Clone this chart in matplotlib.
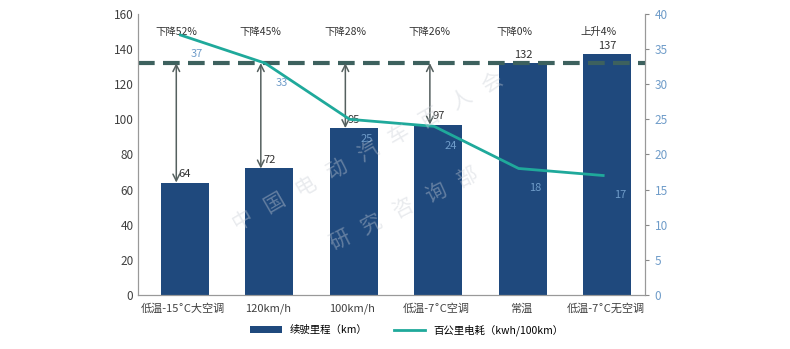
import matplotlib.pyplot as plt
import numpy as np

plt.rcParams['font.family'] = ['Noto Sans CJK SC', 'DejaVu Sans']

categories = ['低温-15˚C大空调', '120km/h', '100km/h', '低温-7˚C空调', '常温', '低温-7˚C无空调']
range_km = [64, 72, 95, 97, 132, 137]
consumption = [37, 33, 25, 24, 18, 17]
change_labels = ['下降52%', '下降45%', '下降28%', '下降26%', '下降0%', '上升4%']
baseline = 132

bar_color = '#1f497d'
line_color = '#1fa99b'
dash_color = '#3d615e'
right_color = '#6f9cc9'

fig = plt.figure(figsize=(7.9, 3.49), dpi=100)
ax = fig.add_axes([0.175, 0.155, 0.642, 0.805])
ax2 = ax.twinx()

x = np.arange(len(categories))
ax.bar(x + 0.05, range_km, width=0.57, color=bar_color, zorder=2, label='续驶里程（km）')
ax.set_xlim(-0.5, len(categories) - 0.5)
ax.set_ylim(0, 160)
ax.set_yticks(range(0, 161, 20))
ax.set_xticks(x + 0.03)
ax.set_xticklabels(categories, fontsize=8, color='#404040')
ax.tick_params(axis='y', labelsize=8.5, colors='#404040', length=0)
ax.tick_params(axis='x', length=0, pad=6)

# baseline dashed line and arrows
ax.axhline(baseline, color=dash_color, lw=3, dashes=(4, 2), zorder=4)
for i, v in enumerate(range_km[:4]):
    ax.annotate('', xy=(i - 0.05, v), xytext=(i - 0.05, baseline),
                arrowprops=dict(arrowstyle='<->', color='#55605f', lw=1.1,
                                shrinkA=0, shrinkB=0, mutation_scale=12), zorder=5)

for i, v in enumerate(range_km):
    ax.text(i + 0.05, v + 2, str(v), ha='center', va='bottom', fontsize=8, color='#333333', zorder=6)

for i, t in enumerate(change_labels):
    ax.text(i - 0.05, 150, t, ha='center', va='center', fontsize=7.5, color='#333333')

# watermark, one glyph at a time to get the wide spacing
wm1 = '中国电动汽车百人会'
wm2 = '研究咨询部'
for k, ch in enumerate(wm1):
    fig.text((243 + k * 31.2) / 790, 1 - (220 - k * 17.1) / 349, ch, rotation=30,
             fontsize=15, color='#c9ced6', alpha=0.4, ha='center', va='center', zorder=10)
for k, ch in enumerate(wm2):
    fig.text((340 + k * 31.8) / 790, 1 - (240 - k * 15.8) / 349, ch, rotation=27,
             fontsize=15, color='#c9ced6', alpha=0.4, ha='center', va='center', zorder=10)

# consumption line on right axis
ax2.plot(x, consumption, color=line_color, lw=2, zorder=3, label='百公里电耗（kwh/100km）')
ax2.set_ylim(0, 40)
ax2.set_yticks(range(0, 41, 5))
ax2.tick_params(axis='y', labelsize=8.5, colors=right_color, length=3)
ax2.tick_params(axis='y', color='#888888')
for i, v in enumerate(consumption):
    ax2.annotate(str(v), (i, v), xytext=(12, -14), textcoords='offset points',
                 ha='center', va='center', fontsize=8, color=right_color)

for a in (ax, ax2):
    a.spines['top'].set_visible(False)
    a.spines['left'].set_color('#999999')
    a.spines['right'].set_color('#999999')
    a.spines['bottom'].set_color('#999999')

h1, l1 = ax.get_legend_handles_labels()
h2, l2 = ax2.get_legend_handles_labels()
fig.legend(h1 + h2, l1 + l2, loc='center', bbox_to_anchor=(0.515, 0.055), ncol=2,
           frameon=False, fontsize=7.5, handlelength=3, handleheight=0.6, columnspacing=2.5)

fig.savefig('out.png', dpi=100)
